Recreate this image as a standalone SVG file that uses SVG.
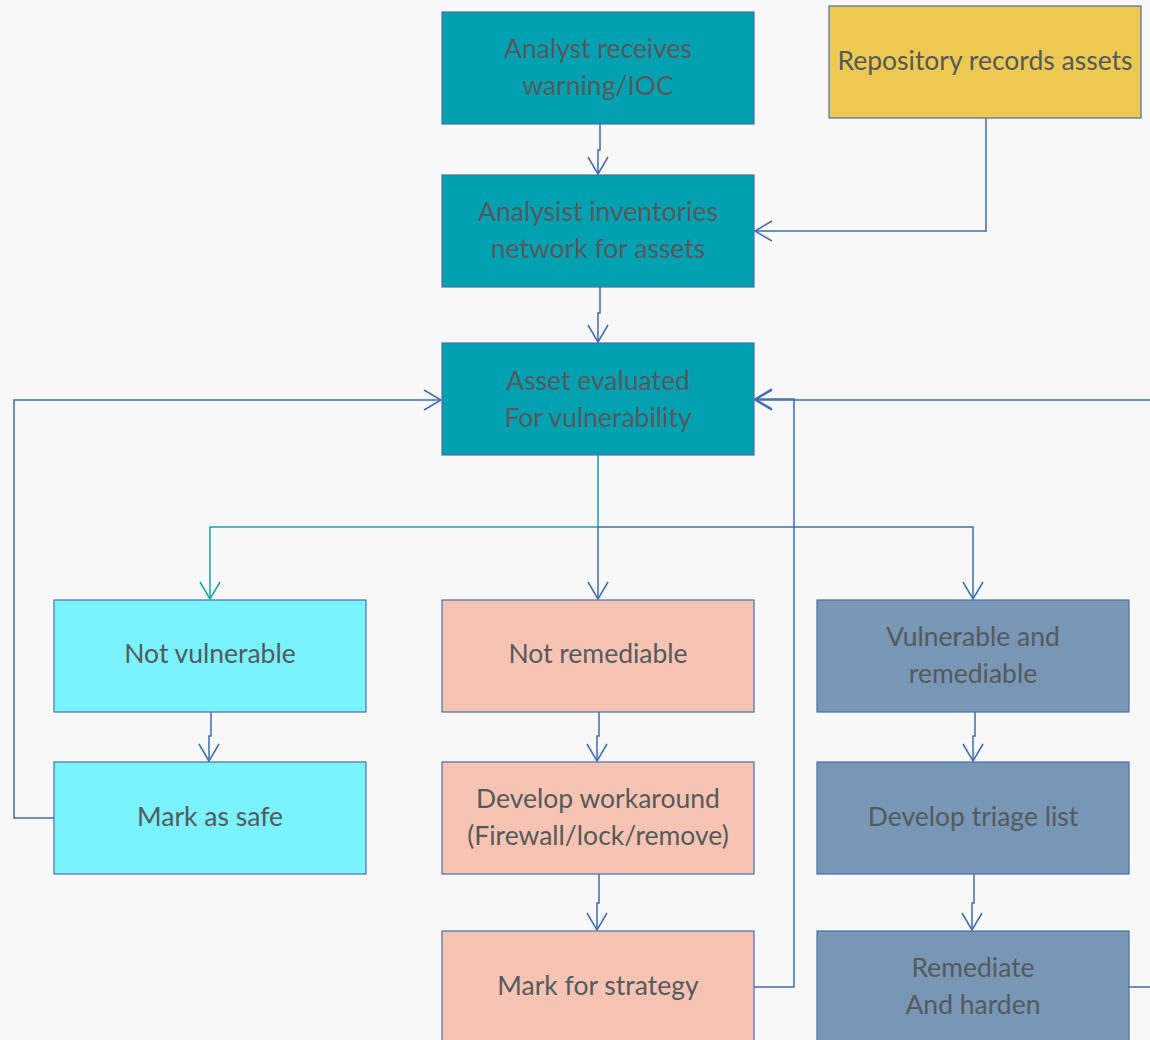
<svg xmlns="http://www.w3.org/2000/svg" width="1150" height="1040" viewBox="0 0 1150 1040">
  <style>
    .box { stroke: #4a6fa8; stroke-width: 1.2; }
    .teal { fill: #02a1b2; }
    .gold { fill: #eec951; }
    .cyan { fill: #7af3ff; }
    .peach { fill: #f7c4b3; }
    .steel { fill: #7896b6; }
    .lbl { font-family: Lato, "Open Sans", "Liberation Sans", sans-serif; font-size: 26.5px; fill: #555a5c; text-anchor: middle; dominant-baseline: central; }
    .wire { fill: none; stroke: #3d6cb2; stroke-width: 1.5; }
    .wire-teal { fill: none; stroke: #17a2b3; stroke-width: 1.5; }
  </style>
  <defs>
    <marker id="arr" viewBox="-20 -12 24 24" markerWidth="24" markerHeight="24" refX="0" refY="0" orient="auto" markerUnits="userSpaceOnUse">
      <path d="M-17,-10 L0,0 L-17,10" fill="none" stroke="#3d6cb2" stroke-width="1.5"/>
    </marker>
    <marker id="arr-teal" viewBox="-20 -12 24 24" markerWidth="24" markerHeight="24" refX="0" refY="0" orient="auto" markerUnits="userSpaceOnUse">
      <path d="M-17,-10 L0,0 L-17,10" fill="none" stroke="#17a2b3" stroke-width="1.5"/>
    </marker>
  </defs>

  <rect width="1150" height="1040" fill="#f8f8f8"/>

  <!-- connectors -->
  <g id="connectors">
    <path class="wire" d="M600,124 V150 H598 V174" marker-end="url(#arr)"/>
    <path class="wire" d="M986,118 V231 H755" marker-end="url(#arr)"/>
    <path class="wire" d="M600,287 V313 H598 V342" marker-end="url(#arr)"/>
    <!-- fan-out from the evaluation step -->
    <path class="wire-teal" d="M598,455 V527"/>
    <path class="wire-teal" d="M598,527 H210 V599" marker-end="url(#arr-teal)"/>
    <path class="wire" d="M598,527 V599" marker-end="url(#arr)"/>
    <path class="wire" d="M598,527 H973 V599" marker-end="url(#arr)"/>
    <!-- column steps -->
    <path class="wire" d="M211,712 V736 H209 V761" marker-end="url(#arr)"/>
    <path class="wire" d="M599,712 V736 H597 V761" marker-end="url(#arr)"/>
    <path class="wire" d="M975,712 V736 H973 V761" marker-end="url(#arr)"/>
    <path class="wire" d="M599,874 V903 H597 V930" marker-end="url(#arr)"/>
    <path class="wire" d="M974,874 V903 H972 V930" marker-end="url(#arr)"/>
    <!-- feedback loops -->
    <path class="wire" d="M54,818 H14 V400 H441" marker-end="url(#arr)"/>
    <path class="wire" d="M754,987 H794 V399 H755" marker-end="url(#arr)"/>
    <path class="wire" d="M1129,987 H1150"/>
    <path class="wire" d="M1150,400 H755" marker-end="url(#arr)"/>
  </g>

  <g id="receive">
    <rect class="box teal" x="442" y="12" width="312" height="112"/>
    <text class="lbl" x="598" y="48">Analyst receives</text>
    <text class="lbl" x="598" y="85">warning/IOC</text>
  </g>
  <g id="repository">
    <rect class="box gold" x="829" y="6" width="312" height="112"/>
    <text class="lbl" x="985" y="60">Repository records assets</text>
  </g>
  <g id="inventory">
    <rect class="box teal" x="442" y="175" width="312" height="112"/>
    <text class="lbl" x="598" y="211">Analysist inventories</text>
    <text class="lbl" x="598" y="248">network for assets</text>
  </g>
  <g id="evaluate">
    <rect class="box teal" x="442" y="343" width="312" height="112"/>
    <text class="lbl" x="598" y="380">Asset evaluated</text>
    <text class="lbl" x="598" y="417">For vulnerability</text>
  </g>

  <g id="not-vulnerable">
    <rect class="box cyan" x="54" y="600" width="312" height="112"/>
    <text class="lbl" x="210" y="653">Not vulnerable</text>
  </g>
  <g id="not-remediable">
    <rect class="box peach" x="442" y="600" width="312" height="112"/>
    <text class="lbl" x="598" y="653">Not remediable</text>
  </g>
  <g id="vulnerable-remediable">
    <rect class="box steel" x="817" y="600" width="312" height="112"/>
    <text class="lbl" x="973" y="636">Vulnerable and</text>
    <text class="lbl" x="973" y="673">remediable</text>
  </g>

  <g id="mark-safe">
    <rect class="box cyan" x="54" y="762" width="312" height="112"/>
    <text class="lbl" x="210" y="816">Mark as safe</text>
  </g>
  <g id="workaround">
    <rect class="box peach" x="442" y="762" width="312" height="112"/>
    <text class="lbl" x="598" y="798">Develop workaround</text>
    <text class="lbl" x="598" y="835">(Firewall/lock/remove)</text>
  </g>
  <g id="triage">
    <rect class="box steel" x="817" y="762" width="312" height="112"/>
    <text class="lbl" x="973" y="816">Develop triage list</text>
  </g>

  <g id="mark-strategy">
    <rect class="box peach" x="442" y="931" width="312" height="112"/>
    <text class="lbl" x="598" y="985">Mark for strategy</text>
  </g>
  <g id="remediate">
    <rect class="box steel" x="817" y="931" width="312" height="112"/>
    <text class="lbl" x="973" y="967">Remediate</text>
    <text class="lbl" x="973" y="1004">And harden</text>
  </g>
</svg>
